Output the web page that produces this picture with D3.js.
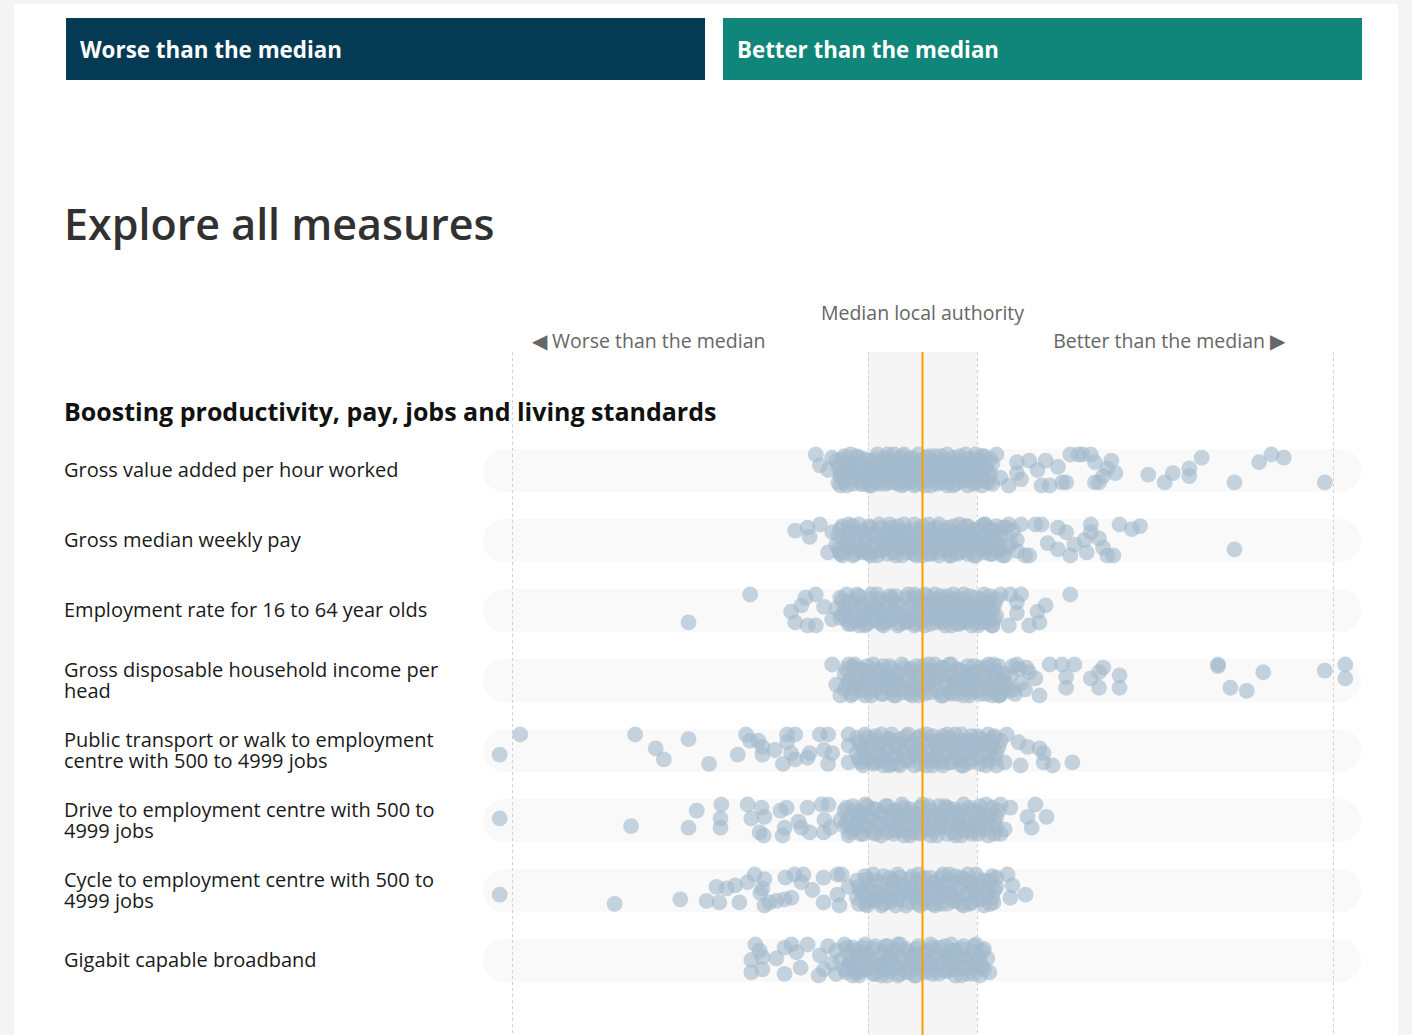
<!DOCTYPE html>
<html>
<head>
<meta charset="utf-8">
<script src="https://cdn.jsdelivr.net/npm/d3@7"></script>
<style>
body{margin:0;background:#f4f4f4;font-family:"Open Sans",sans-serif;}
svg{display:block;}
</style>
</head>
<body>
<svg id="chart"></svg>
<script>
// measures, top to bottom
var measures = [
  ["Gross value added per hour worked"],
  ["Gross median weekly pay"],
  ["Employment rate for 16 to 64 year olds"],
  ["Gross disposable household income per", "head"],
  ["Public transport or walk to employment", "centre with 500 to 4999 jobs"],
  ["Drive to employment centre with 500 to", "4999 jobs"],
  ["Cycle to employment centre with 500 to", "4999 jobs"],
  ["Gigabit capable broadband"]
]
var sectionTitle = "Boosting productivity, pay, jobs and living standards"
var headerLabels = ["Worse than the median", "Better than the median"]

// band around the median (middle of local authorities), score units
var midBand = [-13.3, 13.3]

// each local authority: [score vs median, jitter]
var gvaHour = [[98,8],[76,8],[82,-5],[85,-10],[88,-8],[68,-8],[65,-1],[65,4],[61,2],[59,8],[55,3],[47,2],[46,-6],[45,-1],[44,4],[43,8],[42,8],[42,-5],[41,-10],[39,-10],[38,-10],[36,-10],[34,8],[35,8],[31,10],[29,10],[33,-2],[30,-6],[28,0],[26,-6],[23,-5],[23,2],[24,6],[21,10],[18,-10],[16,8],[19,5],[-26,-10],[-25,-3],[-23,0],[-20,10],[-22,-8],[-20,2],
  [-21,-6],[-20,4],[-19,-9],[-19,7],[-18,0],[-17,-4],[-17,9],[-16,-9],[-16,3],[-15,-1],[-14,6],[-14,-7],[-13,10],[-13,1],[-12,-5],[-11,8],[-11,-10],[-10,2],[-10,-3],[-9,9],[-9,-8],[-8,5],[-8,-1],[-7,-10],[-7,8],[-6,2],[-6,-5],[-5,10],[-5,-9],[-4,4],[-4,-2],[-3,8],[-3,-7],[-2,0],[-2,10],[-1,-10],[-1,5],[0,-4],[0,7],[1,1],[1,-8],[2,10],[2,-3],[3,4],[3,-9],[4,8],[4,-1],[5,-6],[5,3],[6,10],[6,-10],[7,0],[7,6],[8,-5],[8,9],[9,2],[9,-9],[10,-2],[10,7],[11,10],[11,-7],[12,3],[12,-3],[13,-10],[13,8],[14,0],[14,-6],[15,5],[15,-9],[16,1],[17,-4],[17,9],[-12,6],[-15,9],[3,0],[-6,9],[9,5],[-1,-2]]
var gvaHourMore = [[-20.5,-2],[-20.5,8],[-19.5,-7],[-19.5,3],[-18.5,10],[-18.5,-4],[-17.5,1],[-17.5,-10],[-16.5,6],[-16.5,-3],[-15.5,-8],[-15.5,4],[-14.5,9],[-14.5,-2],[-13.5,-6],[-13.5,5],[-12.5,0],[-12.5,10],[-11.5,-7],[-11.5,4],[-10.5,-1],[-10.5,9],[-9.5,-5],[-9.5,3],[-8.5,-10],[-8.5,8],[-7.5,0],[-7.5,-6],[-6.5,6],[-6.5,-2],[-5.5,-7],[-5.5,3],[-4.5,9],[-4.5,-10],[-3.5,1],[-3.5,-4],[-2.5,6],[-2.5,-8],[-1.5,2],[-1.5,9],[-0.5,-6],[-0.5,1],[0.5,10],[0.5,-2],[1.5,-9],[1.5,6],[2.5,0],[2.5,-6],[3.5,9],[3.5,-3],[4.5,4],[4.5,-9],[5.5,8],[5.5,-1],[6.5,-5],[6.5,4],[7.5,10],[7.5,-8],[8.5,1],[8.5,-3],[9.5,7],[9.5,-6],[10.5,3],[10.5,-10],[11.5,0],[11.5,6],[12.5,-7],[12.5,9],[13.5,2],[13.5,-4],[14.5,10],[14.5,-9],[15.5,-2],[15.5,7],[16.5,3],[16.5,-7]]

var weeklyPay = [[-31,-6],[-28,-8],[-27.5,-2],[-25,-10],[-23,8],[-20,8],[-22,-5],[-18,-10],[76,6],[48,-10],[51,-7],[53,-9],[46.5,10],[45,10],[44,5],[43,-1],[41,-5],[41,-10],[39.5,0],[40,8],[36,10],[37,3],[35,-5],[33,-8],[29,-10],[27.5,-10],[33,6],[30.5,2],[26,10],[25,10],[24,-10],[21,-10],[19.5,-8],[15.3,-10],[23,0],
  [-21,3],[-20,-7],[-20,9],[-19,0],[-18,5],[-18,-4],[-17,10],[-17,-9],[-16,1],[-15,-6],[-15,7],[-14,-1],[-13,9],[-13,-9],[-12,3],[-12,-4],[-11,10],[-10,-8],[-10,0],[-9,6],[-8,-10],[-8,2],[-7,8],[-7,-4],[-6,-9],[-6,4],[-5,0],[-5,10],[-4,-6],[-3,6],[-3,-1],[-2,-10],[-2,9],[-1,2],[-1,-5],[0,10],[0,-9],[1,-1],[1,5],[2,-7],[2,9],[3,1],[3,-4],[4,10],[4,-10],[5,3],[5,-2],[6,7],[6,-8],[7,0],[7,10],[8,-5],[8,4],[9,-10],[9,8],[10,1],[10,-4],[11,9],[11,-9],[12,4],[12,-1],[13,10],[13,-7],[14,2],[14,-3],[15,8],[15,-10],[16,0],[16,5],[17,-6],[17,9],[18,2],[18,-9],[19,6],[19,-3],[21,4],[22,-6],[20,10],[23,7],[-9,-3],[4,3],[-14,6]]
var weeklyPayMore = [[-20.5,6],[-20.5,-3],[-19.5,10],[-19.5,-9],[-18.5,2],[-17.5,-6],[-17.5,5],[-16.5,9],[-16.5,-2],[-15.5,-10],[-15.5,3],[-14.5,-5],[-14.5,8],[-13.5,0],[-12.5,-8],[-12.5,10],[-11.5,4],[-11.5,-3],[-10.5,7],[-10.5,-10],[-9.5,1],[-8.5,-5],[-8.5,9],[-7.5,3],[-7.5,-8],[-6.5,-1],[-6.5,10],[-5.5,5],[-5.5,-6],[-4.5,1],[-4.5,-10],[-3.5,8],[-3.5,-4],[-2.5,3],[-1.5,-7],[-1.5,10],[-0.5,0],[-0.5,6],[0.5,-4],[0.5,3],[1.5,9],[1.5,-10],[2.5,-2],[2.5,5],[3.5,-8],[3.5,8],[4.5,0],[5.5,-6],[5.5,6],[6.5,10],[6.5,-3],[7.5,-9],[7.5,4],[8.5,-1],[8.5,9],[9.5,-6],[9.5,2],[10.5,7],[10.5,-9],[11.5,-2],[11.5,4],[12.5,10],[12.5,-6],[13.5,1],[14.5,-9],[14.5,6],[15.5,-3],[15.5,3],[16.5,9],[16.5,-7],[17.5,1],[18.5,-4],[18.5,7],[19.5,10],[20.5,-8],[21.5,2]]

var employment = [[-57,8],[-42,-10],[36,-10],[-32,1],[-31,8],[-28.5,-8],[-26,-10],[-29.5,-3],[-26,10],[-28,10],[-24,-2],[-22,6],[-21,-1],[30,-3],[28,1],[28.5,8],[26,10],[23,-5],[23,2],[21,10],[24,-10],[21.4,-10],[19,-10],[17,10],
  [-20,5],[-20,-8],[-19,0],[-18,9],[-18,-5],[-17,2],[-16,-10],[-16,7],[-15,-2],[-14,10],[-14,3],[-13,-7],[-12,6],[-12,-1],[-11,-10],[-10,9],[-10,2],[-9,-5],[-8,6],[-8,-9],[-7,0],[-6,10],[-6,-4],[-5,4],[-4,-8],[-4,8],[-3,-1],[-2,10],[-2,-10],[-1,3],[0,-5],[0,7],[1,-9],[1,1],[2,9],[2,-3],[3,5],[3,-10],[4,0],[5,8],[5,-6],[6,2],[6,-9],[7,10],[7,-2],[8,5],[8,-7],[9,-1],[9,9],[10,-10],[10,3],[11,7],[11,-4],[12,0],[12,10],[13,-8],[13,4],[14,-2],[14,8],[15,-10],[15,2],[16,6],[16,-5],[17,0],[17,10],[18,-7],[18,4],[-9,8],[-1,-6],[4,6]]
var employmentMore = [[-19.5,3],[-19.5,-6],[-18.5,-10],[-18.5,6],[-17.5,-2],[-17.5,9],[-16.5,-6],[-16.5,2],[-15.5,10],[-15.5,-9],[-14.5,-4],[-14.5,6],[-13.5,1],[-13.5,9],[-12.5,-10],[-12.5,3],[-11.5,-3],[-11.5,7],[-10.5,-7],[-10.5,0],[-9.5,10],[-9.5,3],[-8.5,-2],[-7.5,-8],[-7.5,6],[-6.5,1],[-6.5,-9],[-5.5,9],[-5.5,-3],[-4.5,4],[-3.5,-10],[-3.5,7],[-2.5,-4],[-2.5,2],[-1.5,9],[-1.5,-8],[-0.5,-1],[-0.5,6],[0.5,10],[0.5,-10],[1.5,4],[1.5,-4],[2.5,-7],[2.5,1],[3.5,8],[3.5,-2],[4.5,-9],[4.5,4],[5.5,0],[5.5,10],[6.5,-5],[6.5,6],[7.5,-10],[7.5,3],[8.5,-2],[8.5,9],[9.5,-7],[9.5,4],[10.5,0],[10.5,8],[11.5,-9],[11.5,2],[12.5,-4],[12.5,6],[13.5,10],[13.5,-1],[14.5,-7],[14.5,3],[15.5,8],[15.5,-4],[16.5,-9],[16.5,1],[17.5,6],[17.5,-3]]

var gdhiHead = [[-22,-10],[-21,3],[-20,10],[-18,-10],[72,-10],[72,-9],[83,-5],[75,5],[79,7],[98,-6],[103,-10],[103,-1],[44,-8],[43,-5],[41,-1],[43,5],[48,-3],[48,5],[37,-10],[35,-2],[35,5],[34,-10],[31,-10],[28.5,10],[27.5,-1],[25.3,-8],[23,-10],[22.2,6],[18.8,10],[17.3,-10],
  [-19,-4],[-19,6],[-18,1],[-17,-9],[-17,9],[-16,-2],[-15,5],[-15,-7],[-14,10],[-14,0],[-13,-5],[-12,7],[-12,-10],[-11,2],[-10,-6],[-10,9],[-9,-1],[-8,5],[-8,-9],[-7,10],[-7,1],[-6,-5],[-5,6],[-5,-10],[-4,0],[-3,9],[-3,-7],[-2,3],[-1,-3],[-1,10],[0,-9],[0,5],[1,0],[2,8],[2,-6],[3,-10],[3,3],[4,-2],[5,10],[5,-8],[6,4],[6,-4],[7,9],[7,-10],[8,0],[9,6],[9,-6],[10,-1],[10,10],[11,-9],[11,4],[12,8],[12,-4],[13,1],[14,-8],[14,9],[15,-2],[16,5],[16,-10],[17,10],[17,0],[18,-6],[19,3],[19,9],[20,-4],[21,7],[22,-9],[24,2],[25,6],[26,-5],[20,1],[-9,4],[1,-6]]
var gdhiHeadMore = [[-18.5,-7],[-18.5,4],[-17.5,10],[-17.5,-1],[-16.5,5],[-16.5,-10],[-15.5,1],[-14.5,-6],[-14.5,7],[-13.5,3],[-13.5,-9],[-12.5,-2],[-12.5,10],[-11.5,-7],[-11.5,6],[-10.5,0],[-9.5,-9],[-9.5,9],[-8.5,2],[-8.5,-4],[-7.5,7],[-7.5,-7],[-6.5,-1],[-6.5,10],[-5.5,3],[-4.5,-8],[-4.5,8],[-3.5,0],[-2.5,-5],[-2.5,10],[-1.5,5],[-1.5,-9],[-0.5,1],[0.5,-6],[0.5,9],[1.5,3],[1.5,-10],[2.5,0],[3.5,7],[3.5,-5],[4.5,10],[4.5,-8],[5.5,1],[6.5,-10],[6.5,8],[7.5,-3],[7.5,4],[8.5,-7],[8.5,9],[9.5,1],[10.5,-5],[10.5,6],[11.5,10],[11.5,-2],[12.5,-9],[12.5,3],[13.5,7],[13.5,-5],[14.5,0],[15.5,9],[15.5,-8],[16.5,2],[17.5,-4],[17.5,7],[18.5,10],[18.5,-9],[19.5,0],[20.5,5],[21.5,-3],[22.5,9],[23.5,-7]]

var publicTransport = [[-103,3],[-98,-10],[-70,-10],[-65,-1],[-63,6],[-57,-7],[-52,9],[-45,3],[-43,-10],[-42,-6],[-40,-6],[-39,-2],[-39,3],[-36,0],[-34,9],[-33,-5],[-33,-10],[-31,-10],[-32,2],[-31,6],[-28,5],[-27.5,2],[-25,-10],[-23,-10],[-24,0],[-23,9],[-22,2],[-18,-10],[-18,-3],[-18,8],[20.5,-10],[23.4,-5],[25.6,-2],[28.5,-1],[29.5,2],[23.9,10],[29.5,8],[31.7,10],[36.5,8],[20,8],[17.3,-8],
  [-16,2],[-16,-8],[-15,8],[-15,-3],[-14,-10],[-14,5],[-13,0],[-12,9],[-12,-6],[-11,3],[-10,-10],[-10,7],[-9,-2],[-8,10],[-8,-7],[-7,4],[-6,-4],[-6,9],[-5,0],[-4,-9],[-4,6],[-3,-3],[-2,10],[-2,2],[-1,-8],[0,5],[0,-4],[1,10],[1,-10],[2,1],[3,-6],[3,7],[4,-1],[5,10],[5,-9],[6,3],[7,-4],[7,8],[8,-10],[8,0],[9,6],[10,-6],[10,10],[11,1],[12,-9],[12,6],[13,-2],[14,9],[14,-7],[15,2],[16,-10],[16,7],[17,-3],[18,10],[18,2],[19,-6],[-13,6],[-1,1],[11,-3],[6,-10]]
var publicTransportMore = [[-15.5,-5],[-15.5,6],[-14.5,1],[-14.5,10],[-13.5,-8],[-13.5,4],[-12.5,-2],[-11.5,8],[-11.5,-9],[-10.5,2],[-10.5,-4],[-9.5,10],[-9.5,5],[-8.5,-7],[-8.5,1],[-7.5,9],[-7.5,-10],[-6.5,-2],[-6.5,4],[-5.5,-7],[-5.5,10],[-4.5,2],[-3.5,-10],[-3.5,7],[-2.5,-5],[-1.5,4],[-1.5,-1],[-0.5,9],[-0.5,-9],[0.5,1],[0.5,-6],[1.5,6],[2.5,-9],[2.5,10],[3.5,-2],[3.5,3],[4.5,8],[4.5,-6],[5.5,1],[6.5,-8],[6.5,8],[7.5,0],[8.5,-5],[8.5,5],[9.5,10],[9.5,-10],[10.5,2],[11.5,-6],[11.5,8],[12.5,0],[13.5,-9],[13.5,5],[14.5,-3],[15.5,10],[15.5,-6],[16.5,1],[17.5,-9],[17.5,6],[18.5,-2]]

var driveCentre = [[-103,-1],[-71,4],[-57,5],[-55,-6],[-49,-10],[-49.2,-1],[-49.2,5],[-42.6,-10],[-41.7,-1],[-39.2,-8],[-38.5,-2],[-39.7,8],[-38.7,10],[-34.6,-6],[-33.1,-8],[-33.6,5],[-34.1,10],[-30.2,1],[-29.5,5],[-28,-8],[-27.5,8],[-24.6,-10],[-23.9,0],[-22.9,-10],[-22.4,5],[-24.1,8],[-20,0],[21.4,-8],[27.5,-10],[30.2,-2],[25.6,-2],[26.6,5],[20,6],
  [-19,-6],[-19,4],[-18,10],[-18,-1],[-17,-9],[-17,6],[-16,1],[-15,-5],[-15,9],[-14,-10],[-14,3],[-13,-2],[-12,8],[-12,-7],[-11,2],[-10,10],[-10,-4],[-9,-9],[-9,5],[-8,0],[-7,9],[-7,-6],[-6,3],[-5,-10],[-5,7],[-4,-2],[-3,10],[-3,-7],[-2,2],[-1,-4],[-1,8],[0,-10],[0,1],[1,6],[2,-6],[2,10],[3,0],[4,-9],[4,5],[5,-3],[6,9],[6,-8],[7,2],[8,-5],[8,10],[9,-1],[10,7],[10,-10],[11,3],[12,-6],[12,9],[13,0],[14,-9],[14,6],[15,-3],[16,10],[16,2],[17,-8],[18,5],[18,-2],[19,9],[19,-10],[-16,-4],[-6,-3],[9,4]]
var driveCentreMore = [[-18.5,2],[-18.5,-8],[-17.5,8],[-16.5,-6],[-16.5,5],[-15.5,0],[-14.5,9],[-14.5,-4],[-13.5,-9],[-13.5,5],[-12.5,0],[-11.5,-7],[-11.5,9],[-10.5,3],[-9.5,-3],[-8.5,8],[-8.5,-9],[-7.5,2],[-6.5,-6],[-6.5,7],[-5.5,0],[-4.5,10],[-4.5,-8],[-3.5,3],[-2.5,-5],[-2.5,8],[-1.5,0],[-0.5,-8],[-0.5,9],[0.5,4],[0.5,-3],[1.5,-9],[1.5,1],[2.5,7],[3.5,-4],[3.5,10],[4.5,0],[5.5,-9],[5.5,5],[6.5,-2],[7.5,8],[7.5,-7],[8.5,2],[9.5,-6],[9.5,10],[10.5,-1],[11.5,7],[11.5,-8],[12.5,3],[13.5,-5],[13.5,9],[14.5,0],[15.5,6],[15.5,-10],[16.5,-3],[17.5,9],[17.5,1],[18.5,-6]]

var cycleCentre = [[-103,3],[-75,9],[-59,6],[-52.6,7],[-49.5,8],[-44.6,8],[-50.2,-2],[-47.7,-1],[-45.6,-3],[-42.6,-5],[-40.9,-10],[-38.5,-7],[-39,-1],[-39.5,2],[-38.5,10],[-37.3,8],[-35.6,7],[-33.6,6],[-31.9,5],[-33.4,-8],[-31.2,-10],[-29,-10],[-29.5,-5],[-26.8,0],[-24.1,-8],[-24.1,8],[-20.7,-10],[-19.7,-10],[-20.7,3],[-20.2,10],[-18,-2],[18,-8],[20.7,-10],[21.9,-3],[21.4,5],[25.1,3],[17.3,8],
  [-16,5],[-16,-6],[-15,1],[-14,9],[-14,-9],[-13,-3],[-12,6],[-12,-10],[-11,1],[-10,10],[-10,-5],[-9,4],[-8,-8],[-8,8],[-7,0],[-6,-10],[-6,6],[-5,-3],[-4,10],[-4,2],[-3,-7],[-2,5],[-2,-1],[-1,9],[-1,-10],[0,-4],[0,3],[1,8],[2,-8],[2,0],[3,10],[3,-4],[4,5],[5,-10],[5,1],[6,-5],[6,9],[7,3],[8,-9],[8,7],[9,-2],[10,10],[10,-7],[11,2],[12,-4],[12,8],[13,-10],[13,1],[14,6],[15,-6],[15,10],[16,0],[17,-9],[17,5],[18,-2],[-13,7],[-7,-6],[4,-1],[11,-10]]
var cycleCentreMore = [[-15.5,-2],[-15.5,9],[-14.5,2],[-13.5,-7],[-13.5,10],[-12.5,1],[-11.5,-6],[-11.5,7],[-10.5,2],[-9.5,-9],[-9.5,9],[-8.5,0],[-7.5,-4],[-7.5,6],[-6.5,10],[-5.5,-8],[-5.5,3],[-4.5,-3],[-3.5,8],[-3.5,1],[-2.5,-9],[-1.5,3],[-1.5,-5],[-0.5,10],[-0.5,0],[0.5,-8],[0.5,6],[1.5,-2],[2.5,9],[2.5,-5],[3.5,2],[4.5,-8],[4.5,9],[5.5,-3],[6.5,2],[6.5,-10],[7.5,7],[7.5,-5],[8.5,0],[9.5,9],[9.5,-8],[10.5,3],[11.5,-5],[11.5,9],[12.5,0],[13.5,-7],[13.5,6],[14.5,-2],[15.5,2],[16.5,-6],[16.5,9],[17.5,0]]

var gigabit = [[-40.7,-10],[-39.7,-6],[-41.7,0],[-41.7,8],[-39,6],[-39,-2],[-35.6,-1],[-33.6,9],[-33.6,-8],[-31.9,-10],[-29.7,5],[-30.7,-5],[-28,-10],[-25.3,10],[15.8,-1],[16.3,8],
  [-25,-3],[-24,6],[-23,-9],[-22,2],[-21,9],[-21,-6],[-20,0],[-19,-10],[-19,6],[-18,3],[-18,-4],[-17,10],[-17,-8],[-16,1],[-15,-5],[-15,7],[-14,-10],[-14,3],[-13,-1],[-12,9],[-12,-7],[-11,4],[-10,-3],[-10,10],[-9,-9],[-9,1],[-8,7],[-7,-5],[-7,3],[-6,10],[-6,-10],[-5,-1],[-4,6],[-4,-7],[-3,2],[-2,10],[-2,-4],[-1,-9],[-1,5],[0,0],[1,8],[1,-6],[2,-10],[2,3],[3,-2],[4,9],[4,-8],[5,1],[6,-4],[6,7],[7,-10],[7,2],[8,10],[8,-6],[9,-1],[10,5],[10,-9],[11,9],[11,0],[12,-5],[13,4],[13,-10],[14,10],[14,-2],[15,6],[15,-7],[-16,8],[3,6],[-8,-3]]
var gigabitMore = [[-18.5,-8],[-18.5,8],[-17.5,1],[-16.5,-6],[-16.5,5],[-15.5,10],[-15.5,-1],[-14.5,-8],[-13.5,6],[-13.5,-4],[-12.5,1],[-11.5,-9],[-11.5,9],[-10.5,3],[-9.5,-5],[-9.5,6],[-8.5,10],[-8.5,-9],[-7.5,0],[-6.5,5],[-6.5,-6],[-5.5,9],[-5.5,-10],[-4.5,1],[-3.5,-5],[-3.5,8],[-2.5,-1],[-1.5,10],[-1.5,-7],[-0.5,3],[0.5,-4],[0.5,7],[1.5,0],[2.5,9],[2.5,-8],[3.5,3],[4.5,-4],[5.5,7],[5.5,-9],[6.5,0],[7.5,-6],[7.5,6],[8.5,1],[9.5,10],[9.5,-7],[10.5,-2],[11.5,5],[12.5,-9],[12.5,9],[13.5,0],[14.5,-6],[14.5,4]]

var series = [
  gvaHour.concat(gvaHourMore),
  weeklyPay.concat(weeklyPayMore),
  employment.concat(employmentMore),
  gdhiHead.concat(gdhiHeadMore),
  publicTransport.concat(publicTransportMore),
  driveCentre.concat(driveCentreMore),
  cycleCentre.concat(cycleCentreMore),
  gigabit.concat(gigabitMore)
]

var width = 1412, height = 1035

var svg = d3.select("#chart")
  .attr("width", width)
  .attr("height", height)

// white page panel
svg.append("rect").attr("x", 14).attr("y", 4).attr("width", 1384).attr("height", height).attr("fill", "#fff")

// top boxes
var boxColors = ["#053a55", "#108579"]
var boxX = [66, 723]
headerLabels.forEach(function(t, i){
  svg.append("rect").attr("x", boxX[i]).attr("y", 18).attr("width", 639).attr("height", 62)
    .attr("fill", boxColors[i])
  svg.append("text").attr("x", boxX[i] + 14).attr("y", 58)
    .attr("fill", "#fff").style("font-size", "23px").style("font-weight", 700)
    .attr("textLength", 262).attr("lengthAdjust", "spacingAndGlyphs")
    .text(t)
})

svg.append("text").attr("x", 64).attr("y", 240)
  .style("font-size", "43px").style("font-weight", 600).attr("fill", "#323132")
  .text("Explore all measures")

var x = d3.scaleLinear().domain([-100, 100]).range([512, 1333])
var rowY = d3.scalePoint().domain(d3.range(measures.length)).range([470, 960])
var jit = d3.scaleLinear().domain([-10, 10]).range([-15.5, 15.5])

var plotTop = 352

// median band
svg.append("rect").attr("x", x(midBand[0])).attr("y", plotTop)
  .attr("width", x(midBand[1]) - x(midBand[0])).attr("height", height - plotTop)
  .attr("fill", "#f5f5f5")

// row backgrounds
svg.selectAll(".rowbg").data(measures).enter().append("rect")
  .attr("class", "rowbg")
  .attr("x", 483).attr("width", 878)
  .attr("y", function(d, i){ return rowY(i) - 21 }).attr("height", 43)
  .attr("rx", 21)
  .attr("fill", "#f7f7f7").attr("fill-opacity", 0.7)

// dashed guides
var guides = [-100, midBand[0], midBand[1], 100]
svg.selectAll(".guide").data(guides).enter().append("line")
  .attr("x1", function(d){ return Math.round(x(d)) + 0.5 }).attr("x2", function(d){ return Math.round(x(d)) + 0.5 })
  .attr("y1", plotTop).attr("y2", height)
  .attr("stroke", "#cfcfcf").attr("stroke-dasharray", "3,3")

// axis labels
svg.append("text").attr("x", x(0)).attr("y", 320).attr("text-anchor", "middle")
  .style("font-size", "19.5px").attr("fill", "#666").text("Median local authority")
svg.append("text").attr("x", 532).attr("y", 348)
  .style("font-size", "19.5px").attr("fill", "#666").text("\u25C0 Worse than the median")
svg.append("text").attr("x", 1285).attr("y", 348).attr("text-anchor", "end")
  .style("font-size", "19.5px").attr("fill", "#666").text("Better than the median \u25B6")

// section title
svg.append("text").attr("x", 64).attr("y", 421)
  .style("font-size", "25px").style("font-weight", 700).attr("fill", "#111")
  .text(sectionTitle)

// row labels
measures.forEach(function(lines, i){
  var t = svg.append("text").attr("x", 64).style("font-size", "20px").attr("fill", "#1a1a1a")
  var y0 = lines.length == 1 ? rowY(i) + 7 : rowY(i) - 3
  lines.forEach(function(l, k){
    t.append("tspan").attr("x", 64).attr("y", y0 + k * 21).text(l)
  })
})

// dots
series.forEach(function(pts, i){
  svg.append("g").selectAll("circle").data(pts).enter().append("circle")
    .attr("cx", function(d){ return x(d[0]) })
    .attr("cy", function(d){ return rowY(i) + jit(d[1]) })
    .attr("r", 7.9)
    .attr("fill", "#a3bacb")
    .attr("fill-opacity", 0.62)
})

// median line
svg.append("line").attr("x1", x(0)).attr("x2", x(0)).attr("y1", plotTop).attr("y2", height)
  .attr("stroke", "#f5a100").attr("stroke-width", 2)
</script>
</body>
</html>
